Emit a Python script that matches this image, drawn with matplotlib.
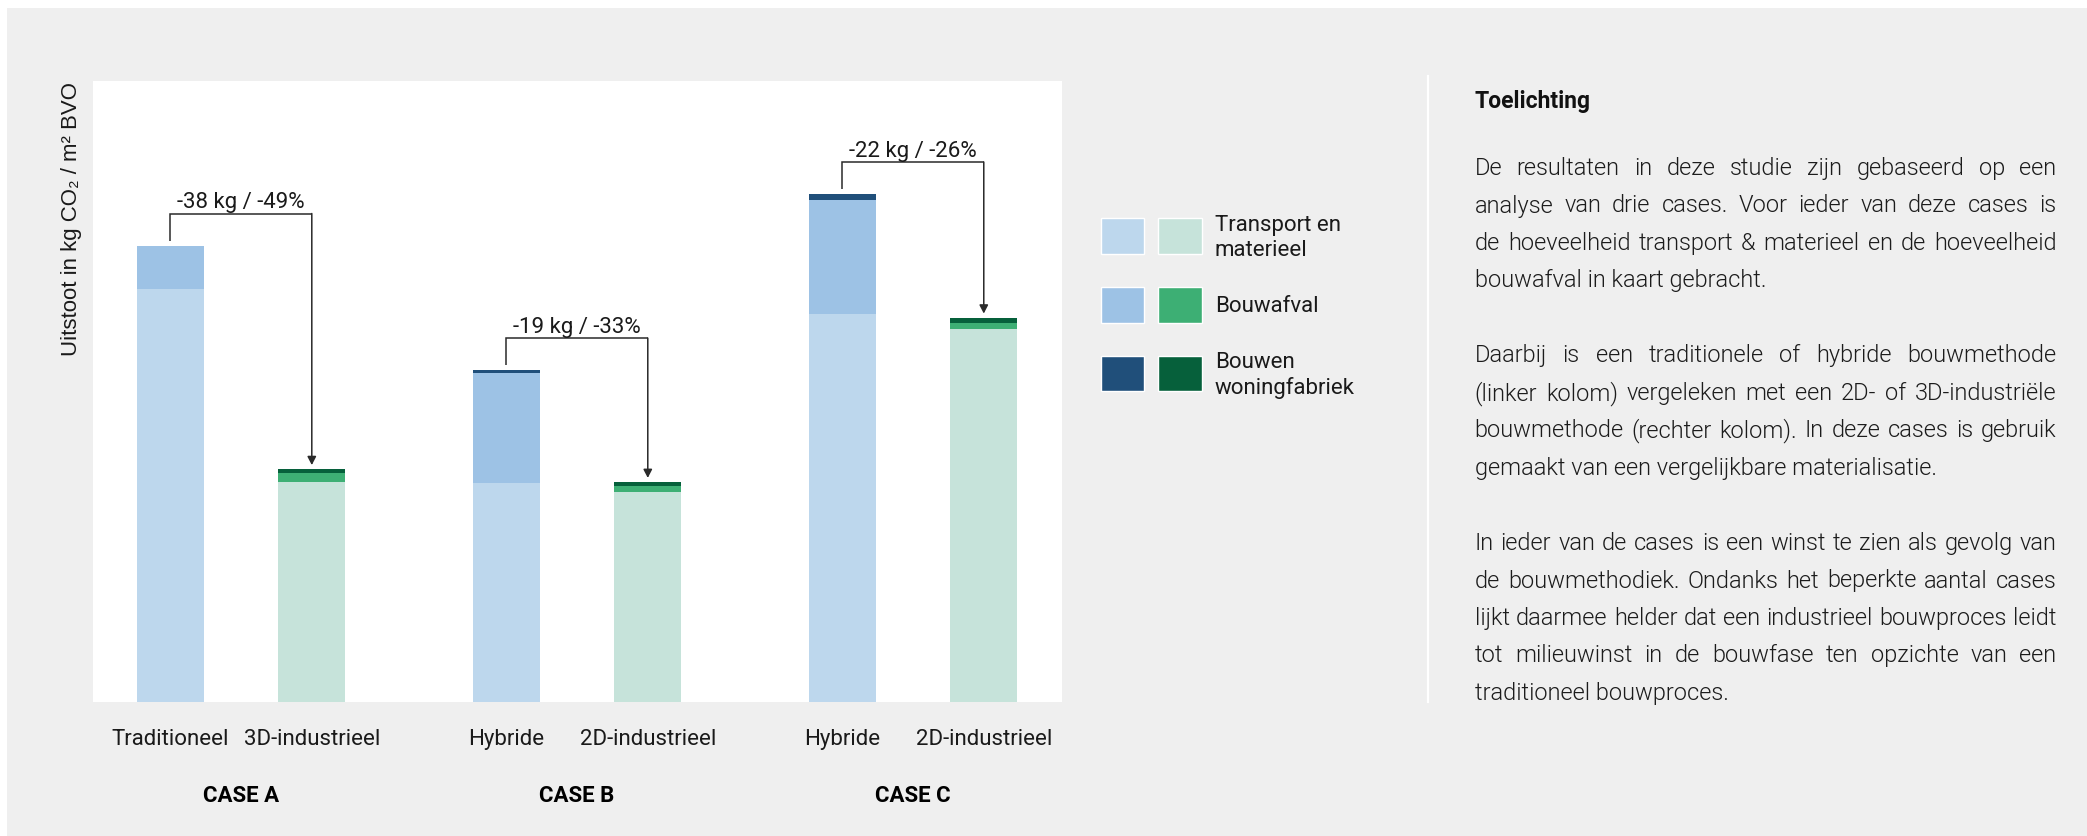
import matplotlib
matplotlib.use("Agg")
import matplotlib.pyplot as plt
from matplotlib.patches import Rectangle
from matplotlib.lines import Line2D
import matplotlib.transforms as mtransforms

# ---- data -------------------------------------------------------------
cases = ["CASE A", "CASE B", "CASE C"]
methods_left = ["Traditioneel", "Hybride", "Hybride"]
methods_right = ["3D-industrieel", "2D-industrieel", "2D-industrieel"]

# kg CO2 per m2 BVO, left column (traditional / hybrid)
transport_left = [70.6, 37.4, 66.3]
afval_left = [7.4, 18.8, 19.5]
fabriek_left = [0.0, 0.5, 1.0]

# right column (2D / 3D industrial)
transport_right = [37.6, 35.9, 63.8]
afval_right = [1.5, 1.0, 1.0]
fabriek_right = [0.7, 0.7, 0.9]

change_labels = ["-38 kg / -49%", "-19 kg / -33%", "-22 kg / -26%"]

legend_labels = ["Transport en\nmaterieel", "Bouwafval", "Bouwen\nwoningfabriek"]

heading = "Toelichting"
paragraphs = [
    ["De resultaten in deze studie zijn gebaseerd op een",
     "analyse van drie cases. Voor ieder van deze cases is",
     "de hoeveelheid transport & materieel en de hoeveelheid",
     "bouwafval in kaart gebracht."],
    ["Daarbij is een traditionele of hybride bouwmethode",
     "(linker kolom) vergeleken met een 2D- of 3D-industriële",
     "bouwmethode (rechter kolom). In deze cases is gebruik",
     "gemaakt van een vergelijkbare materialisatie."],
    ["In ieder van de cases is een winst te zien als gevolg van",
     "de bouwmethodiek. Ondanks het beperkte aantal cases",
     "lijkt daarmee helder dat een industrieel bouwproces leidt",
     "tot milieuwinst in de bouwfase ten opzichte van een",
     "traditioneel bouwproces."],
]

# ---- style --------------------------------------------------------------
blues = ["#bdd7ed", "#9dc2e5", "#204f7a"]
greens = ["#c6e3da", "#3daf74", "#06603b"]
bg_gray = "#efefef"
ink = "#1a1a1a"
FONT = "Roboto"

W, H = 2087, 837
fig = plt.figure(figsize=(W / 100, H / 100), dpi=100, facecolor="white")


def fx(px):
    return px / W


def fy(py):
    return 1 - py / H


# page background
fig.patches.append(Rectangle((fx(7), 0), 1 - fx(7), fy(9), transform=fig.transFigure,
                             facecolor=bg_gray, edgecolor="none", zorder=-10))

# ---- bar chart ------------------------------------------------------------
ax = fig.add_axes([fx(93), fy(703), (1062 - 93) / W, (703 - 82) / H])
ax.set_facecolor("white")
for s in ax.spines.values():
    s.set_visible(False)

group_gap = 2.371
offset = 0.5
width = 0.473
centers = [i * group_gap for i in range(len(cases))]
x_left = [c - offset for c in centers]
x_right = [c + offset for c in centers]


def stacked(xs, layers, colors):
    bottom = [0.0] * len(xs)
    for vals, col in zip(layers, colors):
        ax.bar(xs, vals, width=width, bottom=bottom, color=col, linewidth=0)
        bottom = [b + v for b, v in zip(bottom, vals)]
    return bottom


tot_left = stacked(x_left, [transport_left, afval_left, fabriek_left], blues)
tot_right = stacked(x_right, [transport_right, afval_right, fabriek_right], greens)

ax.set_xlim(-1.044, 5.794)
ax.set_ylim(0, 106.15)
ax.set_yticks([])

ticks = []
labels = []
for xl, xr, ml, mr in zip(x_left, x_right, methods_left, methods_right):
    ticks += [xl, xr]
    labels += [ml, mr]
ax.set_xticks(ticks)
ax.set_xticklabels(labels, fontsize=16, family=FONT, color=ink)
ax.tick_params(axis="x", length=0, pad=26.5)
for lbl in ax.get_xticklabels():
    lbl.set_verticalalignment("center")

# case names under each pair
blend = mtransforms.blended_transform_factory(ax.transData, fig.transFigure)
for c, name in zip(centers, cases):
    ax.text(c, fy(796), name, transform=blend, ha="center", va="center",
            fontsize=16, fontweight="bold", family=FONT, color="#000000")

# reduction brackets with arrows
line_col = "#2a2a2a"
for xl, xr, tl, tr, lab in zip(x_left, x_right, tot_left, tot_right, change_labels):
    top = tl + 5.5
    ax.plot([xl, xl, xr], [tl + 0.85, top, top], color=line_col, lw=1.1,
            solid_joinstyle="miter", solid_capstyle="butt")
    ax.annotate("", xy=(xr, tr + 0.7), xytext=(xr, top),
                arrowprops=dict(arrowstyle="-|>,head_length=0.5,head_width=0.26",
                                color=line_col, lw=1.1, shrinkA=0, shrinkB=0))
    ax.annotate(lab, xy=((xl + xr) / 2, top), xytext=(0, 4.5),
                textcoords="offset points", ha="center", va="baseline",
                fontsize=16, family=FONT, color=ink)

ax.set_ylabel("Uitstoot in kg CO₂ / m² BVO", loc="top", fontsize=16,
              family="Liberation Sans", color=ink, labelpad=8)

# ---- legend -----------------------------------------------------------------
rows = [(219, 255), (288, 324), (357, 392)]
for (y0, y1), lab, cb, cg in zip(rows, legend_labels, blues, greens):
    for (x0, x1), col in (((1101, 1144), cb), ((1158, 1202), cg)):
        fig.patches.append(Rectangle((fx(x0), fy(y1)), (x1 - x0) / W, (y1 - y0) / H,
                                     transform=fig.transFigure, facecolor=col,
                                     edgecolor="white", linewidth=1.0))
    fig.text(fx(1215), fy((y0 + y1) / 2 + 1), lab, ha="left", va="center",
             fontsize=16, family=FONT, color=ink, linespacing=1.22)

# ---- divider ----------------------------------------------------------------
fig.lines.append(Line2D([fx(1428), fx(1428)], [fy(77), fy(703)], transform=fig.transFigure,
                        color="white", lw=1.6))

# ---- explanatory text (justified) --------------------------------------------
x0_txt, x1_txt = 1474.6, 2056.6
fig.text(fx(x0_txt), fy(108), heading, ha="left", va="baseline", fontsize=16.5,
         fontweight="bold", family=FONT, color="#111111")

renderer = fig.canvas.get_renderer()
body_kw = dict(fontsize=17, family=FONT, fontweight=300, color="#1c1c1c",
               va="baseline", ha="left")
baseline = 175.0
step = 37.5
for para in paragraphs:
    for i, line in enumerate(para):
        last = i == len(para) - 1
        if last:
            fig.text(fx(x0_txt), fy(baseline), line, **body_kw)
        else:
            words = line.split(" ")
            arts = [fig.text(fx(x0_txt), fy(baseline), w, **body_kw) for w in words]
            widths = [a.get_window_extent(renderer).width for a in arts]
            gap = (x1_txt - x0_txt - sum(widths)) / (len(words) - 1)
            xpos = x0_txt
            for a, wd in zip(arts, widths):
                a.set_x(fx(xpos))
                xpos += wd + gap
        baseline += step
    baseline += step

fig.savefig("out.png", dpi=100, facecolor=fig.get_facecolor())
